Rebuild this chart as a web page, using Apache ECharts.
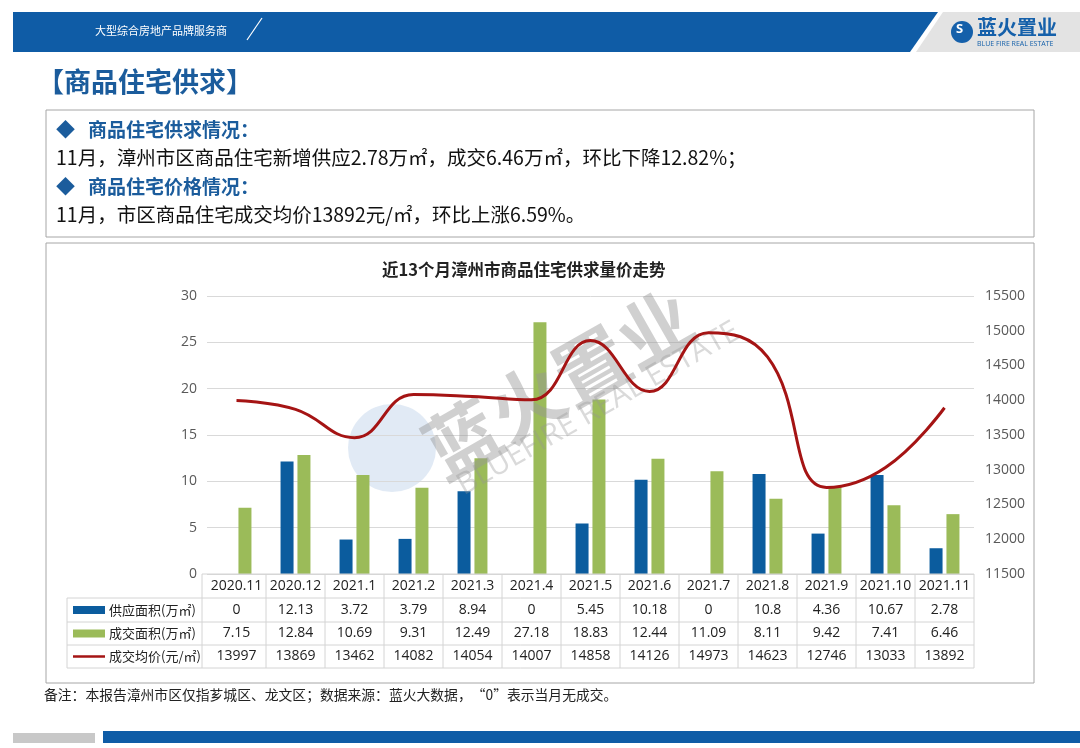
<!DOCTYPE html>
<html><head><meta charset="utf-8">
<script src="https://cdn.jsdelivr.net/npm/echarts@6/dist/echarts.min.js"></script>
<style>html,body{margin:0;padding:0;background:#fff}#c{width:1080px;height:748px}</style>
</head><body><div id="c"></div>
<script>
const categories = ['2020.11','2020.12','2021.1','2021.2','2021.3','2021.4','2021.5','2021.6','2021.7','2021.8','2021.9','2021.10','2021.11'];
const supplyArea = [0,12.13,3.72,3.79,8.94,0,5.45,10.18,0,10.8,4.36,10.67,2.78];
const dealArea = [7.15,12.84,10.69,9.31,12.49,27.18,18.83,12.44,11.09,8.11,9.42,7.41,6.46];
const avgPrice = [13997,13869,13462,14082,14054,14007,14858,14126,14973,14623,12746,13033,13892];
const seriesNames = ['供应面积(万㎡)','成交面积(万㎡)','成交均价(元/㎡)'];
const leftTicks = [0,30,5];
const rightTicks = [11500,15500,500];

const BLUE='#0b5c9e', GREEN='#9bbb59', RED='#a51414';
const CJK='"Noto Sans CJK SC", "Noto Sans", sans-serif';
const NUM='"Open Sans", "Noto Sans", sans-serif';

const chart = echarts.init(document.getElementById('c'), null, {renderer:'canvas'});

const decor = [
  // header band
  {type:'polygon', shape:{points:[[13,12],[938,12],[910,52],[13,52]]}, style:{fill:'#0f5ca6'}, z:1},
  {type:'polygon', shape:{points:[[943,12],[1080,12],[1080,52],[916,52]]}, style:{fill:'#e3e3e3'}, z:1},
  {type:'text', left:95, top:25, style:{text:'大型综合房地产品牌服务商', fill:'#ffffff', font:'11px '+CJK}, z:2},
  {type:'line', shape:{x1:247,y1:40,x2:262,y2:18}, style:{stroke:'#ffffff', lineWidth:1.2}, z:2},
  {type:'circle', shape:{cx:962,cy:32,r:11}, style:{fill:'#1560aa'}, z:2},
  {type:'text', left:956, top:23, style:{text:'S', fill:'#ffffff', font:'bold 13px '+NUM}, z:3},
  {type:'text', left:977, top:17, style:{text:'蓝火置业', fill:'#1560aa', font:'bold 20px '+CJK}, z:2},
  {type:'text', left:977, top:40, style:{text:'BLUE FIRE REAL ESTATE', fill:'#1560aa', font:'7px '+NUM}, z:2},
  // page title
  {type:'text', left:37, top:68, style:{text:'【商品住宅供求】', fill:'#1b5c9c', font:'bold 27px '+CJK}, z:2},
  // text box
  {type:'rect', shape:{x:46,y:110,width:988,height:127}, style:{fill:'#fff', stroke:'#a6a6a6', lineWidth:1}, z:1},
  {type:'text', left:56, top:120, style:{text:'◆   商品住宅供求情况：', fill:'#1b5c9c', font:'bold 19px '+CJK}, z:2},
  {type:'text', left:56, top:148, style:{text:'11月，漳州市区商品住宅新增供应2.78万㎡，成交6.46万㎡，环比下降12.82%；', fill:'#111', font:'19.5px '+CJK}, z:2},
  {type:'text', left:56, top:177, style:{text:'◆   商品住宅价格情况：', fill:'#1b5c9c', font:'bold 19px '+CJK}, z:2},
  {type:'text', left:56, top:205, style:{text:'11月，市区商品住宅成交均价13892元/㎡，环比上涨6.59%。', fill:'#111', font:'19.5px '+CJK}, z:2},
  // chart box
  {type:'rect', shape:{x:46,y:243,width:988,height:440}, style:{fill:'rgba(0,0,0,0)', stroke:'#a6a6a6', lineWidth:1}, z:1},
  // watermark
  {type:'circle', shape:{cx:392,cy:448,r:44}, style:{fill:'rgba(170,195,225,0.35)'}, z:0},
  {type:'text', x:412, y:425, rotation:Math.PI*0.165, style:{text:'蓝火置业', fill:'rgba(150,150,150,0.45)', font:'bold 74px '+CJK}, z:20},
  {type:'text', x:452, y:475, rotation:Math.PI*0.165, style:{text:'BLUEFIRE REAL ESTATE', fill:'rgba(150,150,150,0.35)', font:'30px '+NUM}, z:20},
  // footer
  {type:'text', left:44, top:688, style:{text:'备注：本报告漳州市区仅指芗城区、龙文区；数据来源：蓝火大数据，“0”表示当月无成交。', fill:'#222', font:'13.8px '+CJK}, z:2},
  {type:'rect', shape:{x:13,y:733,width:82,height:10}, style:{fill:'#c8c8c8'}, z:1},
  {type:'rect', shape:{x:103,y:731,width:977,height:12}, style:{fill:'#0f5ca6'}, z:1}
];

const option = {
  animation:false,
  backgroundColor:'#ffffff',
  title:{text:'近13个月漳州市商品住宅供求量价走势', left:377, top:256, textStyle:{fontFamily:CJK, fontSize:16.5, fontWeight:'bold', color:'#222'}},
  grid:{left:207, right:106, top:296, bottom:174},
  xAxis:{type:'category', data:categories, axisLine:{show:false}, axisTick:{show:false},
    axisLabel:{color:'#222', fontFamily:NUM, fontSize:14, margin:12, verticalAlign:'middle', interval:0}},
  yAxis:[
    {type:'value', min:leftTicks[0], max:leftTicks[1], interval:leftTicks[2], axisLine:{show:false}, axisTick:{show:false},
      axisLabel:{color:'#595959', fontFamily:NUM, fontSize:14, margin:10}, splitLine:{lineStyle:{color:'#d9d9d9', width:1}}},
    {type:'value', min:rightTicks[0], max:rightTicks[1], interval:rightTicks[2], axisLine:{show:false}, axisTick:{show:false},
      axisLabel:{color:'#595959', fontFamily:NUM, fontSize:14, margin:11, formatter:v=>String(v)}, splitLine:{show:false}}
  ],
  series:[
    {name:seriesNames[0], type:'bar', data:supplyArea, barWidth:13, barGap:'30%', itemStyle:{color:BLUE}, z:2},
    {name:seriesNames[1], type:'bar', data:dealArea, barWidth:13, barGap:'30%', itemStyle:{color:GREEN}, z:2},
    {name:seriesNames[2], type:'line', yAxisIndex:1, data:avgPrice, smooth:0.45, symbol:'none', lineStyle:{color:RED, width:3}, z:30}
  ],
  graphic:decor
};
chart.setOption(option);

// data table positioned from the category axis scale
const centers = categories.map((c,i)=>chart.convertToPixel({xAxisIndex:0}, i));
const step = centers[1]-centers[0];
const xL = centers[0]-step/2, xR = centers[centers.length-1]+step/2;
const y0 = chart.convertToPixel({yAxisIndex:0}, 0);
const rowH = [24,24,23,23];
const rows = [y0]; rowH.forEach(h=>rows.push(rows[rows.length-1]+h));
const legX = 67;
const tbl = [];
const LC = '#d4d4d4';
tbl.push({type:'line', shape:{x1:xL-5,y1:rows[0],x2:xR,y2:rows[0]}, style:{stroke:LC}});
for(let r=1;r<rows.length;r++) tbl.push({type:'line', shape:{x1:legX,y1:rows[r],x2:xR,y2:rows[r]}, style:{stroke:LC}});
tbl.push({type:'line', shape:{x1:legX,y1:rows[1],x2:legX,y2:rows[4]}, style:{stroke:LC}});
for(let i=0;i<=categories.length;i++){
  const x = i===0 ? xL-5 : centers[i-1]+step/2;
  tbl.push({type:'line', shape:{x1:x,y1:rows[0],x2:x,y2:rows[4]}, style:{stroke:LC}});
}
const tableData = [supplyArea, dealArea, avgPrice];
tableData.forEach((arr,r)=>{
  const yc = (rows[r+1]+rows[r+2])/2;
  arr.forEach((v,i)=>{
    tbl.push({type:'text', x:centers[i], y:yc, style:{text:String(v), fill:'#222', font:'14px '+NUM, textAlign:'center', textVerticalAlign:'middle'}});
  });
  if(r<2) tbl.push({type:'rect', shape:{x:73,y:yc-4,width:32,height:8}, style:{fill:r===0?BLUE:GREEN}});
  else tbl.push({type:'line', shape:{x1:73,y1:yc,x2:105,y2:yc}, style:{stroke:RED, lineWidth:2.5}});
  tbl.push({type:'text', x:109, y:yc, style:{text:seriesNames[r], fill:'#222', font:'13px '+CJK, textAlign:'left', textVerticalAlign:'middle'}});
});
chart.setOption({graphic: decor.concat(tbl.map(g=>Object.assign({z:5}, g)))});
</script></body></html>
